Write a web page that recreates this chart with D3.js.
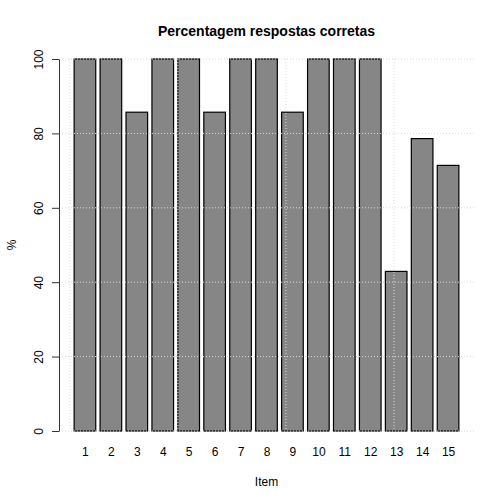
<!DOCTYPE html>
<html>
<head>
<meta charset="utf-8">
<script src="https://cdn.jsdelivr.net/npm/d3@7"></script>
<style>
  body { margin: 0; background: #fff; }
  text { font-family: "Liberation Sans", Arial, sans-serif; }
</style>
</head>
<body>
<svg id="chart" width="504" height="504"></svg>
<script>
var items = ["1","2","3","4","5","6","7","8","9","10","11","12","13","14","15"];
var values = [100, 100, 85.7, 100, 100, 85.7, 100, 100, 85.7, 100, 100, 100, 42.9, 78.6, 71.4];
var yTicks = [0, 20, 40, 60, 80, 100];
var xGrid = [0, 5, 10, 15];

var svg = d3.select("#chart"),
    plotLeft = 59, plotRight = 474, plotTop = 59, plotBottom = 431;

// barplot units: width 1, space 0.2
var x = d3.scaleLinear().domain([-0.5, 18.7]).range([plotLeft, plotRight]);
var y = d3.scaleLinear().domain([0, 100]).range([plotBottom, plotTop]);

function barLeft(i) { return 0.2 + i * 1.2; }

svg.selectAll(".bar")
    .data(values)
    .enter().append("rect")
    .attr("class", "bar")
    .attr("x", function(d, i) { return x(barLeft(i)); })
    .attr("width", function(d, i) { return x(barLeft(i) + 1) - x(barLeft(i)); })
    .attr("y", function(d) { return y(d); })
    .attr("height", function(d) { return y(0) - y(d); })
    .attr("fill", "#868686")
    .attr("stroke", "#000")
    .attr("stroke-width", 1.2);

// grid on top of bars
var grid = svg.append("g")
    .attr("stroke", "#dadada")
    .attr("stroke-dasharray", "1,2")
    .attr("stroke-width", 1);

grid.selectAll(".h")
    .data(yTicks)
    .enter().append("line")
    .attr("x1", plotLeft).attr("x2", plotRight)
    .attr("y1", function(d) { return y(d); })
    .attr("y2", function(d) { return y(d); });

grid.selectAll(".v")
    .data(xGrid)
    .enter().append("line")
    .attr("y1", plotTop).attr("y2", plotBottom)
    .attr("x1", function(d) { return x(d); })
    .attr("x2", function(d) { return x(d); });

// y axis
var yAxis = svg.append("g")
    .attr("transform", "translate(" + plotLeft + ",0)")
    .call(d3.axisLeft(y).tickValues(yTicks).tickSize(7).tickSizeOuter(0));
yAxis.select(".domain").attr("stroke", "#333");
yAxis.selectAll(".tick line").attr("stroke", "#333");
yAxis.selectAll(".tick text")
    .attr("transform", "rotate(-90)")
    .attr("x", 0).attr("y", -16).attr("dy", 0)
    .attr("text-anchor", "middle")
    .attr("fill", "#000")
    .style("font-size", "12px");

// item labels
var xAxis = svg.append("g")
    .attr("transform", "translate(0," + plotBottom + ")")
    .call(d3.axisBottom(x)
        .tickValues(values.map(function(d, i) { return barLeft(i) + 0.5; }))
        .tickFormat(function(d, i) { return items[i]; })
        .tickSize(0));
xAxis.select(".domain").remove();
xAxis.selectAll(".tick text")
    .attr("y", 25).attr("dy", 0)
    .attr("fill", "#000")
    .style("font-size", "12px");

svg.append("text")
    .attr("x", (plotLeft + plotRight) / 2)
    .attr("y", 36)
    .attr("text-anchor", "middle")
    .style("font-size", "14px")
    .style("font-weight", "bold")
    .text("Percentagem respostas corretas");

svg.append("text")
    .attr("x", (plotLeft + plotRight) / 2)
    .attr("y", 486)
    .attr("text-anchor", "middle")
    .style("font-size", "12px")
    .text("Item");

svg.append("text")
    .attr("transform", "translate(16," + (plotTop + plotBottom) / 2 + ") rotate(-90)")
    .attr("text-anchor", "middle")
    .style("font-size", "12px")
    .text("%");
</script>
</body>
</html>
